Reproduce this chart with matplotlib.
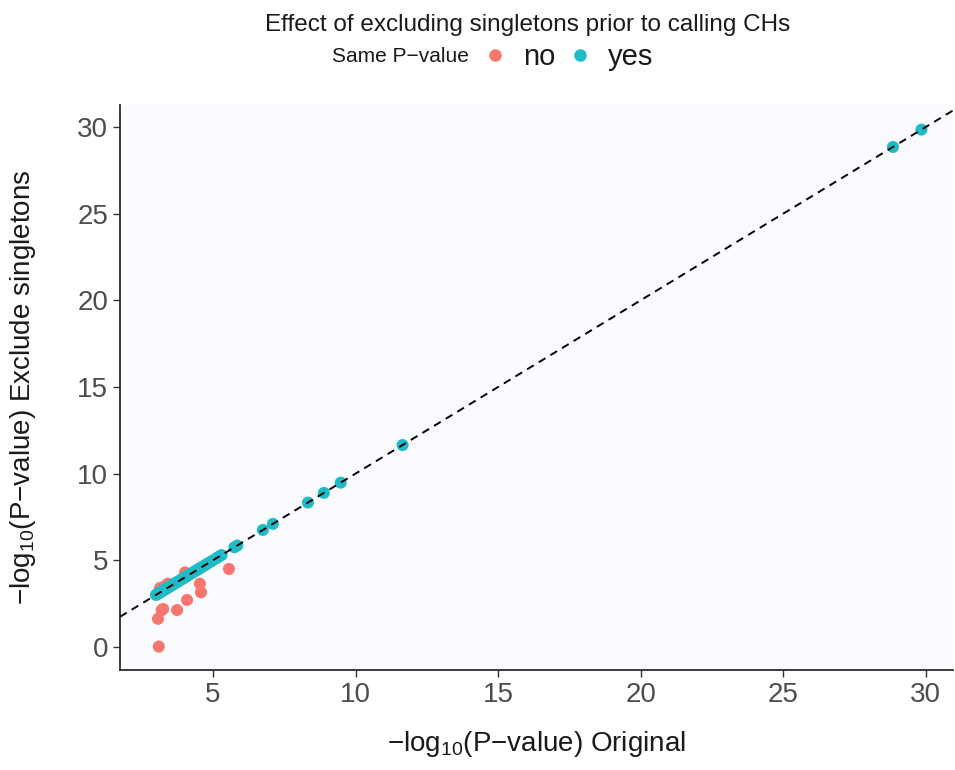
import numpy as np
import matplotlib.pyplot as plt
from matplotlib.lines import Line2D

plt.rcParams['font.family'] = ['Liberation Sans', 'DejaVu Sans']
plt.rcParams['mathtext.fontset'] = 'custom'
plt.rcParams['mathtext.rm'] = 'Liberation Sans'

# -log10 p-values: original vs. exclude singletons
no_x = [3.10, 3.07, 3.20, 3.25, 3.74, 4.09, 4.58, 4.54, 5.56, 4.02, 3.42, 3.14, 3.30]
no_y = [0.02, 1.62, 2.12, 2.19, 2.13, 2.71, 3.15, 3.65, 4.50, 4.30, 3.65, 3.40, 3.50]

yes_x = [3.00, 3.03, 3.06, 3.09, 3.12, 3.15, 3.18, 3.22, 3.26, 3.30, 3.34, 3.38,
         3.42, 3.47, 3.52, 3.57, 3.62, 3.68, 3.74, 3.80, 3.86, 3.92, 3.98, 4.05,
         4.12, 4.19, 4.26, 4.33, 4.40, 4.48, 4.56, 4.65, 4.74, 4.83, 4.95, 5.10,
         5.20, 5.30, 5.75, 5.85, 6.75, 7.10, 8.33, 8.89, 9.48, 11.65, 28.85, 29.85]
yes_y = list(yes_x)

fig = plt.figure(figsize=(9.55, 7.7), dpi=100)
ax = fig.add_axes([0.1257, 0.1299, 0.8723, 0.7337])
ax.set_facecolor('#F9FBFE')

ax.set_xlim(1.74, 30.96)
ax.set_ylim(-1.33, 31.27)

# identity line
ax.axline((0, 0), slope=1, color='black', linestyle=(0, (4, 3)), linewidth=1.4, zorder=3)

ax.scatter(no_x, no_y, s=75, color='#F8766D', edgecolors='none', zorder=2)
ax.scatter(yes_x, yes_y, s=75, color='#1FBCC6', edgecolors='none', zorder=2)

for side in ['top', 'right']:
    ax.spines[side].set_visible(False)
for side in ['left', 'bottom']:
    ax.spines[side].set_color('#2B2B2B')
    ax.spines[side].set_linewidth(1.3)

ax.set_xticks([5, 10, 15, 20, 25, 30])
ax.set_yticks([0, 5, 10, 15, 20, 25, 30])
ax.tick_params(labelsize=20, labelcolor='#4D4D4D', color='#333333', length=5, width=1)

ax.set_xlabel(r'$\mathrm{-log_{10}}$(P$-$value) Original', fontsize=20, color='#1A1A1A')
ax.set_ylabel(r'$\mathrm{-log_{10}}$(P$-$value) Exclude singletons', fontsize=20, color='#1A1A1A')
ax.xaxis.set_label_coords(0.5, -0.105)
ax.yaxis.set_label_coords(-0.098, 0.5)

fig.text(0.553, 0.968, 'Effect of excluding singletons prior to calling CHs',
         ha='center', va='center', fontsize=17.5, color='#1A1A1A')

fig.text(0.348, 0.926, 'Same P\u2212value', ha='left', va='center', fontsize=15, color='#1A1A1A')
handles = [Line2D([], [], marker='o', linestyle='none', color='#F8766D', markersize=8),
           Line2D([], [], marker='o', linestyle='none', color='#1FBCC6', markersize=8)]
fig.legend(handles, ['no', 'yes'], loc='center left', bbox_to_anchor=(0.485, 0.926),
           ncol=2, frameon=False, fontsize=21, handletextpad=0.35, columnspacing=0.25,
           handlelength=1.2, borderpad=0, labelcolor='#1A1A1A')

fig.savefig('out.png', dpi=100)
